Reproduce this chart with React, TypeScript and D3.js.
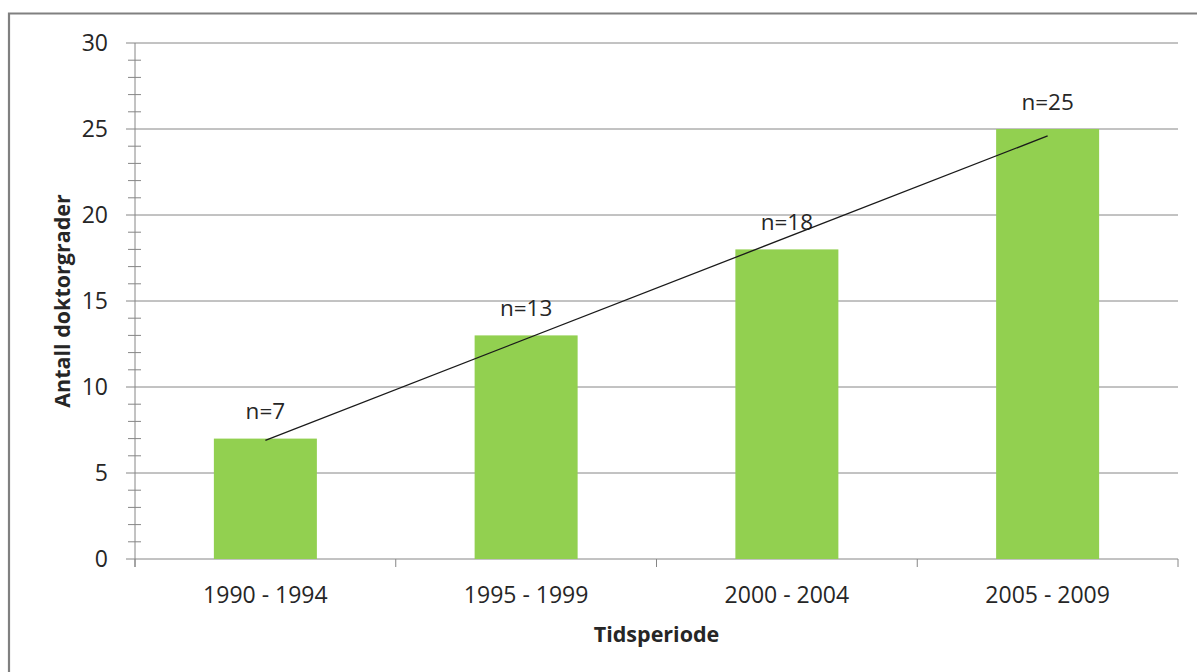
import React, { useEffect, useRef } from 'react';
import * as d3 from 'd3';

// Chart data
const periods = ['1990 - 1994', '1995 - 1999', '2000 - 2004', '2005 - 2009'];
const counts = [7, 13, 18, 25];
const yTicks = [0, 5, 10, 15, 20, 25, 30];

export default function App() {
  const ref = useRef<SVGSVGElement>(null);

  useEffect(() => {
    const W = 1197;
    const H = 672;
    const margin = { top: 43, right: 19, bottom: 113, left: 135 };
    const width = W - margin.left - margin.right;
    const height = H - margin.top - margin.bottom;
    const font = '"Open Sans", "Liberation Sans", sans-serif';
    const grid = '#868686';

    const root = d3.select(ref.current);
    root.selectAll('*').remove();

    // outer chart border (top and left only visible)
    root.append('path')
      .attr('d', `M9,${H + 5} V13.5 H${W + 5}`)
      .attr('fill', 'none')
      .attr('stroke', '#808080')
      .attr('stroke-width', 2.2);

    const svg = root.append('g').attr('transform', `translate(${margin.left},${margin.top})`);

    const x = d3.scaleBand<string>().domain(periods).range([0, width]).padding(0);
    const y = d3.scaleLinear().domain([0, 30]).range([height, 0]);

    // gridlines
    svg.append('g')
      .selectAll('line')
      .data(yTicks)
      .enter()
      .append('line')
      .attr('x1', -9)
      .attr('x2', width)
      .attr('y1', (d) => y(d))
      .attr('y2', (d) => y(d))
      .attr('stroke', grid)
      .attr('stroke-width', 1);

    // minor ticks
    svg.append('g')
      .selectAll('line')
      .data(d3.range(0, 31).filter((d) => d % 5 !== 0))
      .enter()
      .append('line')
      .attr('x1', -7)
      .attr('x2', 6)
      .attr('y1', (d) => y(d))
      .attr('y2', (d) => y(d))
      .attr('stroke', grid);

    // y axis line
    svg.append('line')
      .attr('x1', 0).attr('x2', 0)
      .attr('y1', 0).attr('y2', height + 8)
      .attr('stroke', grid);

    // y tick labels
    svg.append('g')
      .selectAll('text')
      .data(yTicks)
      .enter()
      .append('text')
      .attr('x', -27)
      .attr('y', (d) => y(d))
      .attr('dy', '0.35em')
      .attr('text-anchor', 'end')
      .style('font-family', font)
      .style('font-size', '23px')
      .attr('fill', '#262626')
      .text((d) => d);

    // x category ticks
    const bounds = periods.map((p) => x(p) as number).concat([width]);
    svg.append('g')
      .selectAll('line')
      .data(bounds)
      .enter()
      .append('line')
      .attr('x1', (d) => d).attr('x2', (d) => d)
      .attr('y1', height).attr('y2', height + 8)
      .attr('stroke', grid);

    // x labels
    svg.append('g')
      .selectAll('text')
      .data(periods)
      .enter()
      .append('text')
      .attr('x', (d) => (x(d) as number) + x.bandwidth() / 2)
      .attr('y', height + 36)
      .attr('dy', '0.35em')
      .attr('text-anchor', 'middle')
      .style('font-family', font)
      .style('font-size', '23px')
      .attr('fill', '#262626')
      .text((d) => d);

    // bars
    const barW = x.bandwidth() * 0.395;
    svg.selectAll('.bar')
      .data(counts)
      .enter()
      .append('rect')
      .attr('class', 'bar')
      .attr('x', (d, i) => (x(periods[i]) as number) + x.bandwidth() / 2 - barW / 2)
      .attr('width', barW)
      .attr('y', (d) => y(d))
      .attr('height', (d) => height - y(d))
      .attr('fill', '#92D050');

    // value labels
    svg.append('g')
      .selectAll('text')
      .data(counts)
      .enter()
      .append('text')
      .attr('x', (d, i) => (x(periods[i]) as number) + x.bandwidth() / 2)
      .attr('y', (d) => y(d) - 27)
      .attr('dy', '0.35em')
      .attr('text-anchor', 'middle')
      .style('font-family', font)
      .style('font-size', '22.5px')
      .attr('fill', '#262626')
      .text((d) => `n=${d}`);

    // linear trend line (least squares over category index)
    const xs = counts.map((_, i) => i + 1);
    const mx = d3.mean(xs) as number;
    const my = d3.mean(counts) as number;
    const slope = d3.sum(xs, (v, i) => (v - mx) * (counts[i] - my)) / d3.sum(xs, (v) => (v - mx) ** 2);
    const icpt = my - slope * mx;
    const cx = (i: number) => (x(periods[i]) as number) + x.bandwidth() / 2;
    svg.append('line')
      .attr('x1', cx(0)).attr('y1', y(icpt + slope * 1))
      .attr('x2', cx(3)).attr('y2', y(icpt + slope * 4))
      .attr('stroke', '#1a1a1a')
      .attr('stroke-width', 1.3);

    // axis titles
    svg.append('text')
      .attr('x', width / 2)
      .attr('y', height + 75)
      .attr('dy', '0.35em')
      .attr('text-anchor', 'middle')
      .style('font-family', font)
      .style('font-size', '21.5px')
      .style('font-weight', 'bold')
      .attr('fill', '#262626')
      .text('Tidsperiode');

    svg.append('text')
      .attr('transform', `translate(${62 - margin.left},${height / 2}) rotate(-90)`)
      .attr('dy', '0.35em')
      .attr('text-anchor', 'middle')
      .style('font-family', font)
      .style('font-size', '21.5px')
      .style('font-weight', 'bold')
      .attr('fill', '#262626')
      .text('Antall doktorgrader');
  }, []);

  return (
    <svg
      ref={ref}
      width={1197}
      height={672}
      style={{ position: 'absolute', left: 0, top: 0, background: '#fff' }}
    />
  );
}
